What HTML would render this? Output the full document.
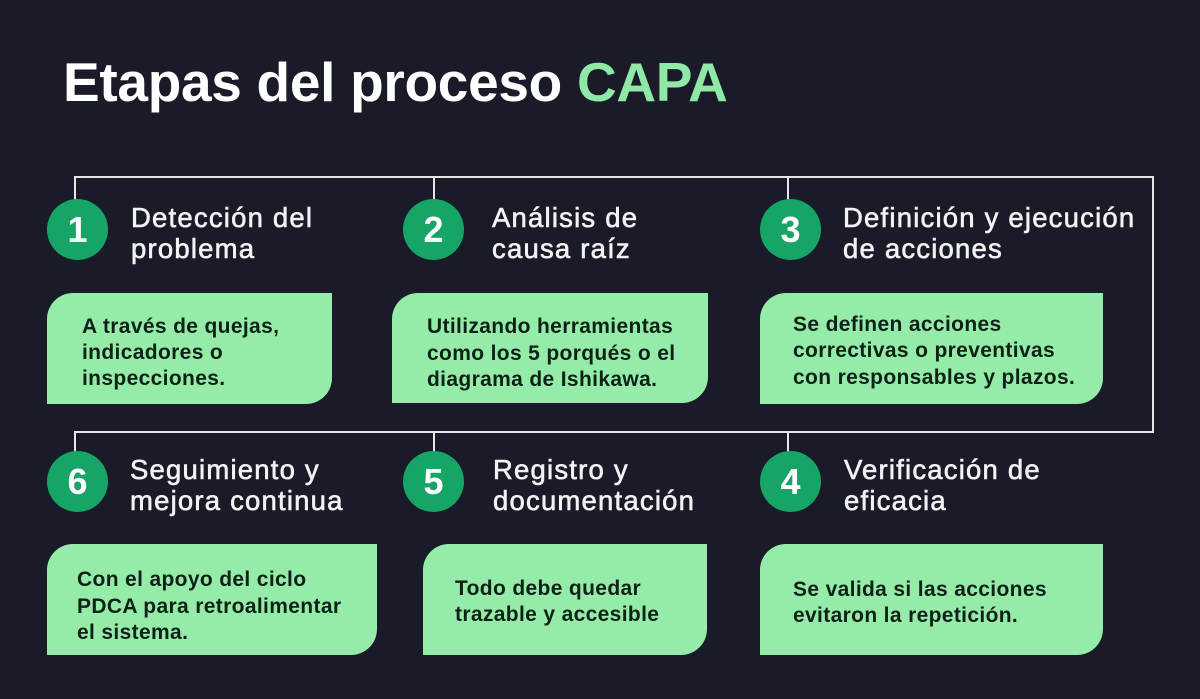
<!DOCTYPE html>
<html><head><meta charset="utf-8">
<style>
*{margin:0;padding:0;box-sizing:border-box}
html,body{width:1200px;height:699px;overflow:hidden;background:#1a1b28}
body{position:relative;font-family:"Liberation Sans",sans-serif}
.title{position:absolute;left:63px;top:55px;font-size:55px;line-height:55px;font-weight:700;color:#fff;letter-spacing:-0.3px;white-space:nowrap}
.title span{color:#8fe8a6}
.c{position:absolute;width:61px;height:61px;border-radius:50%;background:#17a567;color:#fff;font-weight:700;font-size:36px;display:flex;align-items:center;justify-content:center;line-height:1}
.h{position:absolute;color:#f2f2f4;font-size:27.5px;line-height:31px;letter-spacing:1.2px;-webkit-text-stroke:0.6px #f2f2f4;white-space:nowrap}
.b{position:absolute;background:#95eca9;border-radius:26px 0 26px 0}
.t{position:absolute;color:#0e2117;font-weight:700;font-size:21px;letter-spacing:0.35px;white-space:nowrap}
</style></head><body>
<svg width="1200" height="699" style="position:absolute;left:0;top:0">
<g stroke="#e6e6e8" stroke-width="2" fill="none">
<polyline points="75,200 75,177 1153,177 1153,432 75,432 75,452"/>
<line x1="434" y1="177" x2="434" y2="200"/>
<line x1="788" y1="177" x2="788" y2="200"/>
<line x1="434" y1="432" x2="434" y2="452"/>
<line x1="788" y1="432" x2="788" y2="452"/>
</g>
</svg>
<div class="title">Etapas del proceso <span>CAPA</span></div>

<div class="c" style="left:47px;top:199px">1</div>
<div class="c" style="left:403px;top:199px">2</div>
<div class="c" style="left:760px;top:199px">3</div>
<div class="c" style="left:47px;top:451px">6</div>
<div class="c" style="left:403px;top:451px">5</div>
<div class="c" style="left:760px;top:451px">4</div>

<div class="h" style="left:131px;top:202px">Detección del<br>problema</div>
<div class="h" style="left:492px;top:202px">Análisis de<br>causa raíz</div>
<div class="h" style="left:843px;top:202px">Definición y ejecución<br>de acciones</div>
<div class="h" style="left:130px;top:454px">Seguimiento y<br>mejora continua</div>
<div class="h" style="left:493px;top:454px">Registro y<br>documentación</div>
<div class="h" style="left:844px;top:454px">Verificación de<br>eficacia</div>

<div class="b" style="left:47px;top:293px;width:285px;height:111px"></div>
<div class="b" style="left:392px;top:293px;width:316px;height:110px"></div>
<div class="b" style="left:760px;top:293px;width:343px;height:111px"></div>
<div class="b" style="left:47px;top:544px;width:330px;height:111px"></div>
<div class="b" style="left:423px;top:544px;width:284px;height:111px"></div>
<div class="b" style="left:760px;top:544px;width:343px;height:111px"></div>

<div class="t" style="left:82px;top:314px;line-height:26px">A través de quejas,<br>indicadores o<br>inspecciones.</div>
<div class="t" style="left:427px;top:314px;line-height:26.5px">Utilizando herramientas<br>como los 5 porqués o el<br>diagrama de Ishikawa.</div>
<div class="t" style="left:793px;top:312px;line-height:26.3px">Se definen acciones<br>correctivas o preventivas<br>con responsables y plazos.</div>
<div class="t" style="left:77px;top:567px;line-height:26.5px">Con el apoyo del ciclo<br>PDCA para retroalimentar<br>el sistema.</div>
<div class="t" style="left:455px;top:576px;line-height:26px">Todo debe quedar<br>trazable y accesible</div>
<div class="t" style="left:793px;top:577px;line-height:26px">Se valida si las acciones<br>evitaron la repetición.</div>
</body></html>
